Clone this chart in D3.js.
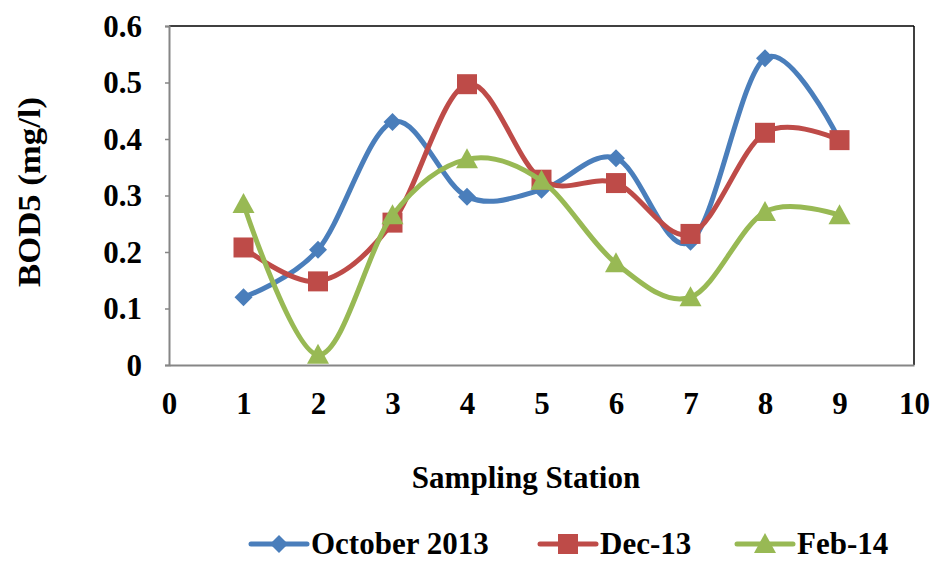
<!DOCTYPE html>
<html>
<head>
<meta charset="utf-8">
<script src="https://cdn.jsdelivr.net/npm/d3@7"></script>
<style>
  html, body { margin: 0; padding: 0; background: #fff; }
  svg text { font-family: "Liberation Serif", "Times New Roman", serif; font-weight: bold; fill: #000; }
</style>
</head>
<body>
<svg id="chart" width="934" height="561"></svg>
<script>
// Sampling stations and BOD5 readings (mg/l)
const stations = [1, 2, 3, 4, 5, 6, 7, 8, 9];
const october2013 = [0.12, 0.204, 0.43, 0.298, 0.31, 0.366, 0.218, 0.543, 0.398];
const dec13 = [0.208, 0.148, 0.252, 0.497, 0.328, 0.322, 0.232, 0.411, 0.398];
const feb14 = [0.285, 0.018, 0.265, 0.364, 0.326, 0.18, 0.12, 0.271, 0.265];

const xTicks = [0, 1, 2, 3, 4, 5, 6, 7, 8, 9, 10];
const yTicks = [0, 0.1, 0.2, 0.3, 0.4, 0.5, 0.6];

const seriesNames = ["October 2013", "Dec-13", "Feb-14"];
const seriesColors = ["#4a7ebb", "#be4b48", "#98b954"];
const seriesMarkers = ["diamond", "square", "triangle"];
const seriesValues = [october2013, dec13, feb14];

const svg = d3.select("#chart");
const plot = { left: 169, right: 914, top: 26, bottom: 365 };

const x = d3.scaleLinear().domain([0, 10]).range([plot.left, plot.right]);
const y = d3.scaleLinear().domain([0, 0.6]).range([plot.bottom, plot.top]);

// plot frame: black top/right, grey axes on the left and bottom
svg.append("line").attr("x1", plot.left).attr("x2", plot.right).attr("y1", plot.top).attr("y2", plot.top)
  .attr("stroke", "#000").attr("stroke-width", 1.5);
svg.append("line").attr("x1", plot.right).attr("x2", plot.right).attr("y1", plot.top).attr("y2", plot.bottom)
  .attr("stroke", "#000").attr("stroke-width", 1.5);

// y axis
const yAxis = svg.append("g").attr("transform", `translate(${plot.left},0)`)
  .call(d3.axisLeft(y).tickValues(yTicks).tickSize(4).tickPadding(23)
    .tickFormat(d => d === 0 ? "0" : d3.format(".1f")(d)));
yAxis.select(".domain").attr("stroke", "#868686").attr("stroke-width", 2);
yAxis.selectAll(".tick line").attr("stroke", "#868686").attr("stroke-width", 1.5);
yAxis.selectAll(".tick text").attr("font-size", 31).attr("dy", "0.33em")
  .style("font-family", "'Liberation Serif', serif").style("font-weight", "bold");

// x axis
const xAxis = svg.append("g").attr("transform", `translate(0,${plot.bottom})`)
  .call(d3.axisBottom(x).tickValues(xTicks).tickSize(0).tickPadding(27).tickFormat(d3.format("d")));
xAxis.select(".domain").attr("stroke", "#868686").attr("stroke-width", 2);
xAxis.selectAll(".tick text").attr("font-size", 31).attr("dy", "0.33em").attr("y", 39)
  .style("font-family", "'Liberation Serif', serif").style("font-weight", "bold");

// axis titles
svg.append("text").attr("x", 526).attr("y", 488).attr("text-anchor", "middle")
  .attr("font-size", 31).text("Sampling Station");
svg.append("text").attr("transform", "translate(40,192) rotate(-90)").attr("text-anchor", "middle")
  .attr("font-size", 31).attr("textLength", 190).attr("lengthAdjust", "spacingAndGlyphs")
  .text("BOD5 (mg/l)");

// marker shapes
function markerPath(kind) {
  if (kind === "diamond") return "M0,-9L9,0L0,9L-9,0Z";
  if (kind === "square") return "M-10,-10H10V10H-10Z";
  return "M0,-11L11,9H-11Z";
}

const line = d3.line()
  .x((d, i) => x(stations[i]))
  .y(d => y(d))
  .curve(d3.curveCardinal.tension(0));

seriesValues.forEach((vals, s) => {
  const g = svg.append("g");
  g.append("path").datum(vals).attr("d", line)
    .attr("fill", "none").attr("stroke", seriesColors[s]).attr("stroke-width", 5)
    .attr("stroke-linejoin", "round");
  g.selectAll("path.mark").data(vals).join("path").attr("class", "mark")
    .attr("transform", (d, i) => `translate(${x(stations[i])},${y(d)})`)
    .attr("d", markerPath(seriesMarkers[s]))
    .attr("fill", seriesColors[s]);
});

// legend
const legendX = [251, 540, 737];
const legendY = 544;
seriesNames.forEach((name, s) => {
  const g = svg.append("g").attr("transform", `translate(${legendX[s]},${legendY})`);
  g.append("line").attr("x1", 0).attr("x2", 56).attr("y1", 0).attr("y2", 0)
    .attr("stroke", seriesColors[s]).attr("stroke-width", 5).attr("stroke-linecap", "round");
  g.append("path").attr("transform", "translate(28,0)").attr("d", markerPath(seriesMarkers[s]))
    .attr("fill", seriesColors[s]);
  g.append("text").attr("x", 60).attr("y", 10).attr("font-size", 31).text(name);
});
</script>
</body>
</html>
